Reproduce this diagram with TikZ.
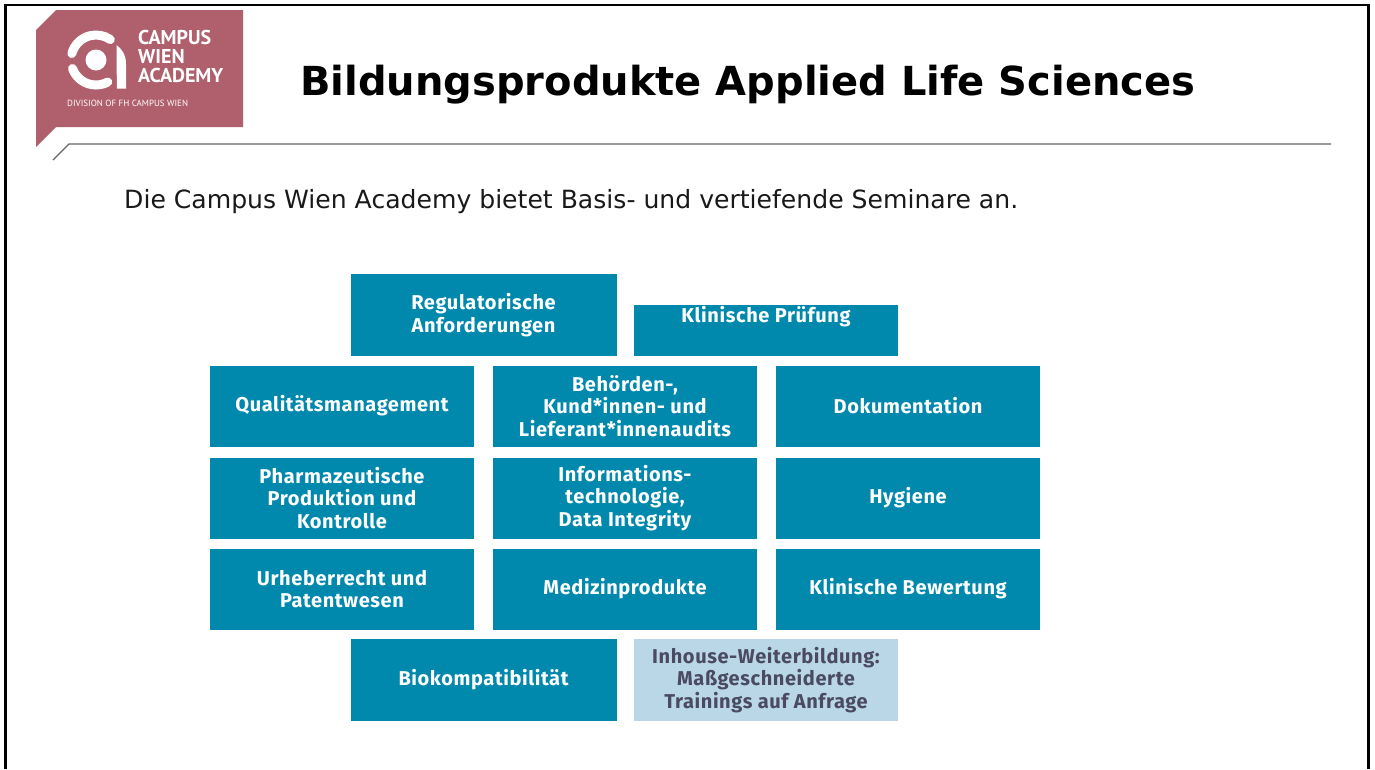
\documentclass[tikz,border=0pt]{standalone}
\usepackage{fontspec}
\setmainfont{DejaVu Sans}
\newfontfamily\boxfont{Fira Sans}[LetterSpace=3]
\newfontfamily\logofont{PT Sans}
\definecolor{teal1}{HTML}{0088AD}
\definecolor{light1}{HTML}{B9D7E6}
\definecolor{logo1}{HTML}{B0606D}
\definecolor{ink1}{HTML}{4A4A63}
\tikzset{
  tile/.style={fill=teal1,text=white,inner sep=0pt,align=center,font=\boxfont\bfseries\fontsize{20}{22.7}\selectfont},
  widetile/.style={tile,minimum width=266,minimum height=82},
  gridtile/.style={tile,minimum width=264.5,minimum height=81},
  lighttile/.style={widetile,fill=light1,text=ink1},
  rule/.style={draw=black!60,line width=1.2},
  frameline/.style={draw=black,line width=2.6},
  logoline/.style={draw=white,line width=9,line cap=round}
}
\begin{document}
\begin{tikzpicture}[x=1pt,y=-1pt]
\useasboundingbox (0,0) rectangle (1375,769);
\fill[white] (0,0) rectangle (1375,769);
% frame
\coordinate (fa) at (5.5,769); \coordinate (fb) at (5.5,5); \coordinate (fc) at (1368.5,5); \coordinate (fd) at (1368.5,769);
\draw[frameline] (fa) -- (fb) -- (fc) -- (fd);
% logo
\fill[logo1] (36,30) -- (56,10) -- (243,10) -- (243,127) -- (56,127) -- (36,147) -- cycle;
\fill[white] (96,60) circle[radius=10.5pt];
\draw[logoline] (71.85,53.53) arc[start angle=165,end angle=55,radius=25pt];
\draw[logoline] (72.51,68.55) arc[start angle=200,end angle=298,radius=25pt];
\fill[white] (116.5,45) .. controls (122,49) and (126,55) .. (126,64) -- (126,88.5) -- (117,88.5) -- (116.5,62) -- cycle;
\node[text=white,font=\logofont\bfseries\fontsize{20}{18.8}\selectfont,align=left,anchor=north west,inner sep=0pt] (logotext) at (138,30) {CAMPUS\\WIEN\\ACADEMY};
\node[text=white,font=\logofont\fontsize{9}{9}\selectfont,anchor=west,inner sep=0pt] (logosub) at (67,103.5) {DIVISION OF FH CAMPUS WIEN};
% rule
\coordinate (ra) at (53,160); \coordinate (rb) at (69,144); \coordinate (rc) at (1331,144);
\draw[rule] (ra) -- (rb) -- (rc);
% title
\node[font=\bfseries\fontsize{40}{42}\selectfont,text=black,anchor=west,inner sep=0pt] (title) at (300,85) {Bildungsprodukte Applied Life Sciences};
\node[font=\fontsize{25.1}{28}\selectfont,text=black!90,anchor=west,inner sep=0pt] (sub) at (124,202) {Die Campus Wien Academy bietet Basis- und vertiefende Seminare an.};
% tiles
\node[widetile] (reg) at (483.5,315) {Regulatorische\\Anforderungen};
\node[tile,minimum width=264,minimum height=51] (kp) at (766,330) {};
\node[tile] (kpt) at (766,317) {Klinische Prüfung};
\node[gridtile] (qm) at (342,406) {Qualitätsmanagement};
\node[gridtile] (aud) at (625,406) {Behörden-,\\Kund*innen- und\\Lieferant*innenaudits};
\node[gridtile] (dok) at (908,406) {Dokumentation};
\node[gridtile] (pha) at (342,498) {Pharmazeutische\\Produktion und\\Kontrolle};
\node[gridtile] (inf) at (625,498) {Informations-\\technologie,\\Data Integrity};
\node[gridtile] (hyg) at (908,498) {Hygiene};
\node[gridtile] (urh) at (342,589) {Urheberrecht und\\Patentwesen};
\node[gridtile] (med) at (625,589) {Medizinprodukte};
\node[gridtile] (kb) at (908,589) {Klinische Bewertung};
\node[widetile] (bio) at (483.5,680) {Biokompatibilität};
\node[lighttile,minimum width=264] (inh) at (766,680) {Inhouse-Weiterbildung:\\Maßgeschneiderte\\Trainings auf Anfrage};
\end{tikzpicture}
\end{document}
